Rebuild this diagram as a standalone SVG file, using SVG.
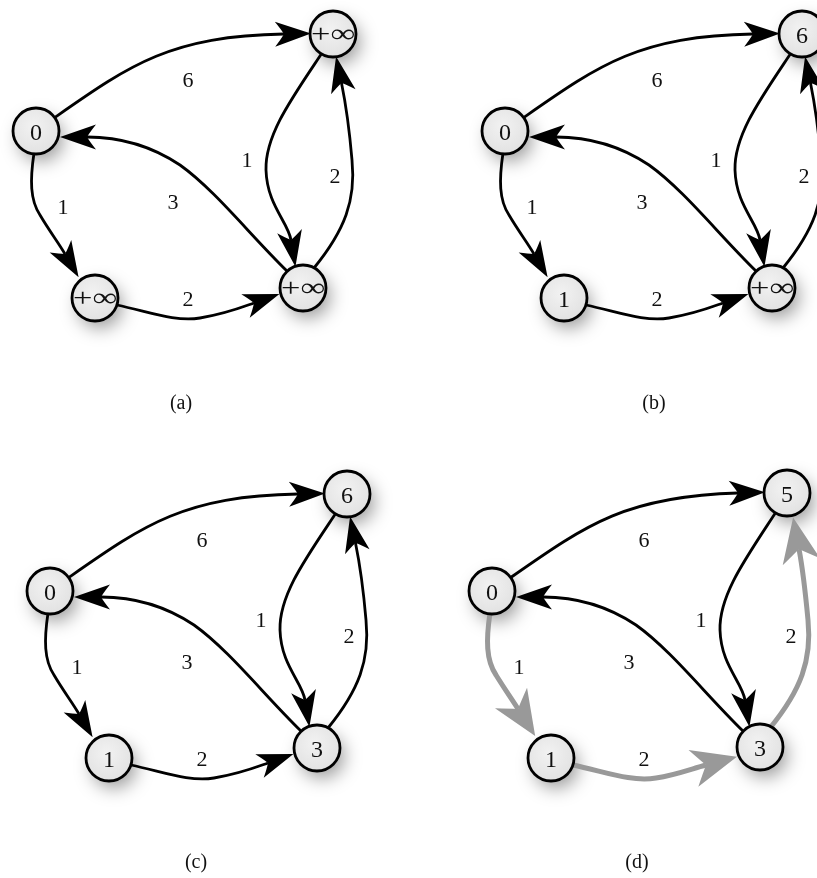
<svg xmlns="http://www.w3.org/2000/svg" width="817" height="878" viewBox="0 0 817 878">
<style>
.edge{fill:none;stroke:#000;stroke-width:2.8;marker-end:url(#ab)}
.gedge{fill:none;stroke:#999;stroke-width:5;marker-end:url(#ag)}
.node circle{fill:url(#nf);stroke:#000;stroke-width:2.8}
.sh circle{fill:#000;opacity:.4}
text{font-family:"Liberation Serif","DejaVu Serif",serif;fill:#111;text-anchor:middle}
.lbl{font-size:22px}
.nl{font-size:24px}
.inf{font-size:26px}
.cap{font-size:20px}
</style>
<defs>
<radialGradient id="nf" cx="45%" cy="40%" r="60%">
<stop offset="0" stop-color="#f2f2f2"/>
<stop offset="1" stop-color="#e2e2e2"/>
</radialGradient>
<filter id="blur" x="-150%" y="-150%" width="400%" height="400%">
<feGaussianBlur stdDeviation="9"/>
</filter>
<marker id="ab" markerUnits="userSpaceOnUse" viewBox="-40 -16 42 32" markerWidth="42" markerHeight="32" refX="-27" refY="0" orient="auto" overflow="visible">
<path d="M0,0 L-36,-12.5 Q-30,-5 -27,0 Q-30,5 -36,12.5 Z" fill="#000"/>
</marker>
<marker id="ag" markerUnits="userSpaceOnUse" viewBox="-50 -22 52 44" markerWidth="52" markerHeight="44" refX="-32" refY="0" orient="auto" overflow="visible">
<path d="M0,0 L-45,-19 Q-37,-7 -32,0 Q-37,7 -45,19 Z" fill="#999"/>
</marker>
</defs>

<!-- Panel (a) -->
<g id="panel-a">
<g class="sh" filter="url(#blur)">
<circle cx="41" cy="139" r="22"/><circle cx="338" cy="42" r="22"/><circle cx="100" cy="306" r="22"/><circle cx="308" cy="296" r="22"/>
</g>
<g id="a-edges">
<path class="edge" d="M54,118 C130,65 170,36 284,34"/>
<path class="edge" d="M322,53 C292,98 265,135 266,170 C267,205 288,222 291,240"/>
<path class="edge" d="M314,268 C345,230 356,200 352,160 C349,125 345,100 341.5,83"/>
<path class="edge" d="M287,271 C250,235 215,190 180,165 C150,145 120,137 87,137"/>
<path class="edge" d="M34,153 C30,180 30,200 40,215 C50,232 58,242 65,254"/>
<path class="edge" d="M117,305 C150,312 175,322 200,318 C225,314 240,308 254,303"/>
<text class="lbl" x="188" y="87">6</text>
<text class="lbl" x="247" y="167">1</text>
<text class="lbl" x="335" y="183">2</text>
<text class="lbl" x="173" y="209">3</text>
<text class="lbl" x="63" y="214">1</text>
<text class="lbl" x="188" y="306">2</text>
</g>
<g id="a-n0" class="node"><circle cx="36" cy="131" r="23"/><text class="nl" x="36" y="140">0</text></g>
<g id="a-n1" class="node"><circle cx="95" cy="298" r="23"/><text class="inf" x="95" y="306" textLength="44" lengthAdjust="spacingAndGlyphs">+∞</text></g>
<g id="a-n2" class="node"><circle cx="333" cy="34" r="23"/><text class="inf" x="333" y="42" textLength="44" lengthAdjust="spacingAndGlyphs">+∞</text></g>
<g id="a-n3" class="node"><circle cx="303" cy="288" r="23"/><text class="inf" x="303" y="296" textLength="44" lengthAdjust="spacingAndGlyphs">+∞</text></g>
<text class="cap" x="181" y="409">(a)</text>
</g>

<!-- Panel (b) -->
<g id="panel-b" transform="translate(469,0)">
<g class="sh" filter="url(#blur)">
<circle cx="41" cy="139" r="22"/><circle cx="338" cy="42" r="22"/><circle cx="100" cy="306" r="22"/><circle cx="308" cy="296" r="22"/>
</g>
<g id="b-edges">
<path class="edge" d="M54,118 C130,65 170,36 284,34"/>
<path class="edge" d="M322,53 C292,98 265,135 266,170 C267,205 288,222 291,240"/>
<path class="edge" d="M314,268 C345,230 356,200 352,160 C349,125 345,100 341.5,83"/>
<path class="edge" d="M287,271 C250,235 215,190 180,165 C150,145 120,137 87,137"/>
<path class="edge" d="M34,153 C30,180 30,200 40,215 C50,232 58,242 65,254"/>
<path class="edge" d="M117,305 C150,312 175,322 200,318 C225,314 240,308 254,303"/>
<text class="lbl" x="188" y="87">6</text>
<text class="lbl" x="247" y="167">1</text>
<text class="lbl" x="335" y="183">2</text>
<text class="lbl" x="173" y="209">3</text>
<text class="lbl" x="63" y="214">1</text>
<text class="lbl" x="188" y="306">2</text>
</g>
<g id="b-n0" class="node"><circle cx="36" cy="131" r="23"/><text class="nl" x="36" y="140">0</text></g>
<g id="b-n1" class="node"><circle cx="95" cy="298" r="23"/><text class="nl" x="95" y="307">1</text></g>
<g id="b-n2" class="node"><circle cx="333" cy="34" r="23"/><text class="nl" x="333" y="43">6</text></g>
<g id="b-n3" class="node"><circle cx="303" cy="288" r="23"/><text class="inf" x="303" y="296" textLength="44" lengthAdjust="spacingAndGlyphs">+∞</text></g>
<text class="cap" x="185" y="409">(b)</text>
</g>

<!-- Panel (c) -->
<g id="panel-c" transform="translate(14,460)">
<g class="sh" filter="url(#blur)">
<circle cx="41" cy="139" r="22"/><circle cx="338" cy="42" r="22"/><circle cx="100" cy="306" r="22"/><circle cx="308" cy="296" r="22"/>
</g>
<g id="c-edges">
<path class="edge" d="M54,118 C130,65 170,36 284,34"/>
<path class="edge" d="M322,53 C292,98 265,135 266,170 C267,205 288,222 291,240"/>
<path class="edge" d="M314,268 C345,230 356,200 352,160 C349,125 345,100 341.5,83"/>
<path class="edge" d="M287,271 C250,235 215,190 180,165 C150,145 120,137 87,137"/>
<path class="edge" d="M34,153 C30,180 30,200 40,215 C50,232 58,242 65,254"/>
<path class="edge" d="M117,305 C150,312 175,322 200,318 C225,314 240,308 254,303"/>
<text class="lbl" x="188" y="87">6</text>
<text class="lbl" x="247" y="167">1</text>
<text class="lbl" x="335" y="183">2</text>
<text class="lbl" x="173" y="209">3</text>
<text class="lbl" x="63" y="214">1</text>
<text class="lbl" x="188" y="306">2</text>
</g>
<g id="c-n0" class="node"><circle cx="36" cy="131" r="23"/><text class="nl" x="36" y="140">0</text></g>
<g id="c-n1" class="node"><circle cx="95" cy="298" r="23"/><text class="nl" x="95" y="307">1</text></g>
<g id="c-n2" class="node"><circle cx="333" cy="34" r="23"/><text class="nl" x="333" y="43">6</text></g>
<g id="c-n3" class="node"><circle cx="303" cy="288" r="23"/><text class="nl" x="303" y="297">3</text></g>
<text class="cap" x="182" y="408">(c)</text>
</g>

<!-- Panel (d) -->
<g id="panel-d" transform="translate(456,460)">
<g class="sh" filter="url(#blur)">
<circle cx="41" cy="139" r="22"/><circle cx="336" cy="41" r="22"/><circle cx="100" cy="306" r="22"/><circle cx="309" cy="295" r="22"/>
</g>
<g id="d-edges">
<path class="edge" d="M54,118 C130,65 170,36 282,33"/>
<path class="edge" d="M320,52 C290,98 263,135 264,170 C265,205 286,222 289,240"/>
<path class="edge" d="M287,271 C250,235 215,190 180,165 C150,145 120,137 87,137"/>
<path class="gedge" d="M314,268 C345,230 356,200 352,160 C349,128 346,105 343,89"/>
<path class="gedge" d="M34,153 C30,180 30,200 40,215 C48,228 55,238 62,249"/>
<path class="gedge" d="M117,305 C150,312 175,322 200,318 C220,315 235,309 250,305"/>
<text class="lbl" x="188" y="87">6</text>
<text class="lbl" x="245" y="167">1</text>
<text class="lbl" x="335" y="183">2</text>
<text class="lbl" x="173" y="209">3</text>
<text class="lbl" x="63" y="214">1</text>
<text class="lbl" x="188" y="306">2</text>
</g>
<g id="d-n0" class="node"><circle cx="36" cy="131" r="23"/><text class="nl" x="36" y="140">0</text></g>
<g id="d-n1" class="node"><circle cx="95" cy="298" r="23"/><text class="nl" x="95" y="307">1</text></g>
<g id="d-n2" class="node"><circle cx="331" cy="33" r="23"/><text class="nl" x="331" y="42">5</text></g>
<g id="d-n3" class="node"><circle cx="304" cy="287" r="23"/><text class="nl" x="304" y="296">3</text></g>
<text class="cap" x="181" y="408">(d)</text>
</g>
</svg>
